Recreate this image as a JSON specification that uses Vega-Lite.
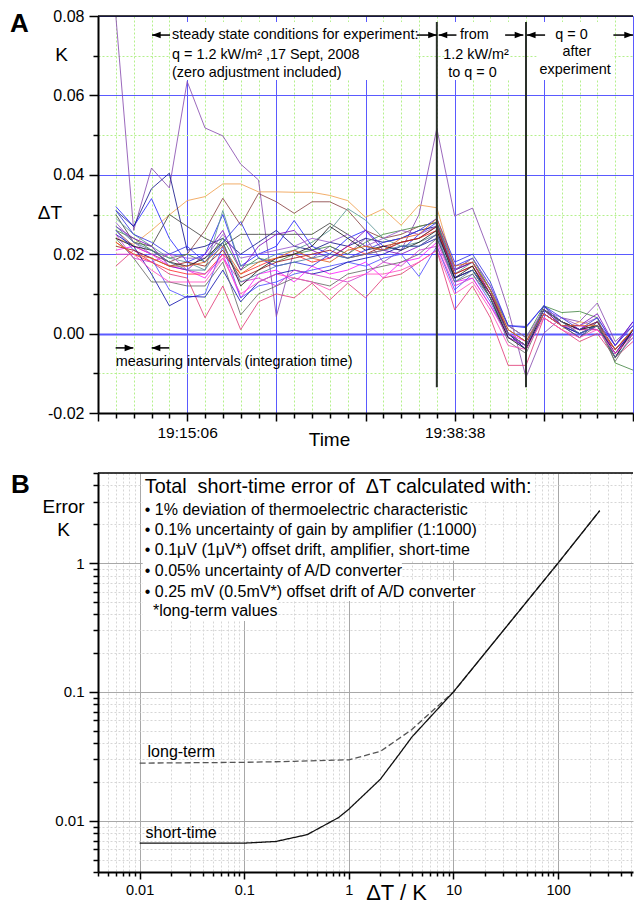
{
"$schema": "https://vega.github.io/schema/vega-lite/v6.json",
"padding": {"left": 10, "top": 8, "right": 0, "bottom": 0},
"autosize": {"type": "pad"},
"bounds": "flush",
"spacing": 60,
"resolve": {"scale": {"color": "independent", "strokeDash": "independent", "shape": "independent"}},
"config": {
  "font": "Liberation Sans",
  "view": {"stroke": null},
  "axis": {"labelFont": "Liberation Sans", "titleFont": "Liberation Sans", "labelColor": "#000", "titleColor": "#000", "domainColor": "#000", "tickColor": "#000", "domainWidth": 2, "tickWidth": 1.5, "titleFontWeight": "normal", "tickCount": 1000, "gridOpacity": 1},
  "text": {"font": "Liberation Sans", "color": "#000"}
},
"datasets": {
  "aBoxes": [{"x":4.05,"x2":17.85,"y":0.0639,"y2":0.0785},{"x":19.45,"x2":23.1,"y":0.0639,"y2":0.0785},{"x":24.6,"x2":28.85,"y":0.0639,"y2":0.0785}],
  "aVert": [{"x":19,"y":-0.0135,"y2":0.0785},{"x":24,"y":-0.0135,"y2":0.0785}],
  "aArrows": [
    {"x":4.04,"x2":3.03,"y":0.0752,"d":"L"},{"x":17.87,"x2":19.0,"y":0.0752,"d":"R"},
    {"x":20.1,"x2":19.1,"y":0.0752,"d":"L"},{"x":22.83,"x2":23.85,"y":0.0752,"d":"R"},
    {"x":25.07,"x2":24.05,"y":0.0752,"d":"L"},{"x":28.9,"x2":30.0,"y":0.0752,"d":"R"},
    {"x":0.99,"x2":1.98,"y":-0.0036,"d":"R"},{"x":4.0,"x2":3.01,"y":-0.0036,"d":"L"}],
  "aTextLeft": [
    {"t":"steady state conditions for experiment:","x":4.15,"y":0.0752},
    {"t":"q = 1.2 kW/m² ,17 Sept, 2008","x":4.15,"y":0.0702},
    {"t":"(zero adjustment included)","x":4.15,"y":0.0657},
    {"t":"measuring intervals (integration time)","x":1.0,"y":-0.0072}],
  "aTextCenter": [
    {"t":"from","x":21.1,"y":0.0752},{"t":"1.2 kW/m²","x":21.2,"y":0.0702},{"t":"to q = 0","x":21.0,"y":0.0657},
    {"t":"q = 0","x":26.55,"y":0.0752},{"t":"after","x":26.85,"y":0.071},{"t":"experiment","x":26.75,"y":0.0664}],
  "aTextAxis": [{"t":"K","x":-2.04,"y":0.0702},{"t":"ΔT","x":-2.69,"y":0.0304}],
  "aTextPanel": [{"t":"A","x":-4.93,"y":0.0781}],
  "aLines": [
{"s":"s1","i":1,"v":0.08},{"s":"s1","i":2,"v":0.026},{"s":"s1","i":3,"v":0.0417},{"s":"s1","i":4,"v":0.0367},{"s":"s1","i":5,"v":0.0635},{"s":"s1","i":6,"v":0.0518},{"s":"s1","i":7,"v":0.0498},{"s":"s1","i":8,"v":0.0427},{"s":"s1","i":9,"v":0.0387},{"s":"s1","i":10,"v":0.0043},{"s":"s1","i":11,"v":0.021},{"s":"s1","i":12,"v":0.019},{"s":"s1","i":13,"v":0.022},{"s":"s1","i":14,"v":0.02},{"s":"s1","i":15,"v":0.024},{"s":"s1","i":16,"v":0.018},{"s":"s1","i":17,"v":0.021},{"s":"s1","i":18,"v":0.03},{"s":"s1","i":19,"v":0.0517},{"s":"s1","i":20,"v":0.0296},{"s":"s1","i":21,"v":0.0316},{"s":"s1","i":22,"v":0.0198},{"s":"s1","i":23,"v":0.006},{"s":"s1","i":24,"v":-0.011},{"s":"s1","i":25,"v":0.0001},{"s":"s1","i":26,"v":0.004},{"s":"s1","i":27,"v":0.003},{"s":"s1","i":28,"v":0.0077},{"s":"s1","i":29,"v":-0.002},{"s":"s1","i":30,"v":0.002},
{"s":"s2","i":1,"v":0.024},{"s":"s2","i":2,"v":0.0225},{"s":"s2","i":3,"v":0.026},{"s":"s2","i":4,"v":0.0299},{"s":"s2","i":5,"v":0.0335},{"s":"s2","i":6,"v":0.0345},{"s":"s2","i":7,"v":0.0377},{"s":"s2","i":8,"v":0.0377},{"s":"s2","i":9,"v":0.0357},{"s":"s2","i":10,"v":0.0357},{"s":"s2","i":11,"v":0.0356},{"s":"s2","i":12,"v":0.0356},{"s":"s2","i":13,"v":0.0348},{"s":"s2","i":14,"v":0.0335},{"s":"s2","i":15,"v":0.0293},{"s":"s2","i":16,"v":0.0314},{"s":"s2","i":17,"v":0.0273},{"s":"s2","i":18,"v":0.0324},{"s":"s2","i":19,"v":0.0317},{"s":"s2","i":20,"v":0.016},{"s":"s2","i":21,"v":0.018},{"s":"s2","i":22,"v":0.011},{"s":"s2","i":23,"v":0.002},{"s":"s2","i":24,"v":-0.001},{"s":"s2","i":25,"v":0.004},{"s":"s2","i":26,"v":0.001},{"s":"s2","i":27,"v":0.003},{"s":"s2","i":28,"v":0.002},{"s":"s2","i":29,"v":-0.004},{"s":"s2","i":30,"v":0.0},
{"s":"s3","i":1,"v":0.026},{"s":"s3","i":2,"v":0.022},{"s":"s3","i":3,"v":0.02},{"s":"s3","i":4,"v":0.018},{"s":"s3","i":5,"v":0.02},{"s":"s3","i":6,"v":0.026},{"s":"s3","i":7,"v":0.0341},{"s":"s3","i":8,"v":0.0273},{"s":"s3","i":9,"v":0.0353},{"s":"s3","i":10,"v":0.0332},{"s":"s3","i":11,"v":0.0303},{"s":"s3","i":12,"v":0.0332},{"s":"s3","i":13,"v":0.0332},{"s":"s3","i":14,"v":0.0311},{"s":"s3","i":15,"v":0.026},{"s":"s3","i":16,"v":0.024},{"s":"s3","i":17,"v":0.025},{"s":"s3","i":18,"v":0.027},{"s":"s3","i":19,"v":0.028},{"s":"s3","i":20,"v":0.014},{"s":"s3","i":21,"v":0.016},{"s":"s3","i":22,"v":0.009},{"s":"s3","i":23,"v":0.0},{"s":"s3","i":24,"v":-0.003},{"s":"s3","i":25,"v":0.006},{"s":"s3","i":26,"v":0.002},{"s":"s3","i":27,"v":0.0},{"s":"s3","i":28,"v":0.002},{"s":"s3","i":29,"v":-0.005},{"s":"s3","i":30,"v":0.001},
{"s":"s4","i":1,"v":0.032},{"s":"s4","i":2,"v":0.027},{"s":"s4","i":3,"v":0.034},{"s":"s4","i":4,"v":0.024},{"s":"s4","i":5,"v":0.018},{"s":"s4","i":6,"v":0.02},{"s":"s4","i":7,"v":0.03},{"s":"s4","i":8,"v":0.017},{"s":"s4","i":9,"v":0.02},{"s":"s4","i":10,"v":0.022},{"s":"s4","i":11,"v":0.0285},{"s":"s4","i":12,"v":0.022},{"s":"s4","i":13,"v":0.02},{"s":"s4","i":14,"v":0.024},{"s":"s4","i":15,"v":0.026},{"s":"s4","i":16,"v":0.022},{"s":"s4","i":17,"v":0.021},{"s":"s4","i":18,"v":0.025},{"s":"s4","i":19,"v":0.028},{"s":"s4","i":20,"v":0.017},{"s":"s4","i":21,"v":0.019},{"s":"s4","i":22,"v":0.012},{"s":"s4","i":23,"v":0.002},{"s":"s4","i":24,"v":0.0015},{"s":"s4","i":25,"v":0.007},{"s":"s4","i":26,"v":0.003},{"s":"s4","i":27,"v":0.001},{"s":"s4","i":28,"v":0.003},{"s":"s4","i":29,"v":-0.003},{"s":"s4","i":30,"v":0.003},
{"s":"s5","i":1,"v":0.031},{"s":"s5","i":2,"v":0.027},{"s":"s5","i":3,"v":0.0365},{"s":"s5","i":4,"v":0.0404},{"s":"s5","i":5,"v":0.021},{"s":"s5","i":6,"v":0.022},{"s":"s5","i":7,"v":0.024},{"s":"s5","i":8,"v":0.02},{"s":"s5","i":9,"v":0.023},{"s":"s5","i":10,"v":0.026},{"s":"s5","i":11,"v":0.022},{"s":"s5","i":12,"v":0.021},{"s":"s5","i":13,"v":0.023},{"s":"s5","i":14,"v":0.022},{"s":"s5","i":15,"v":0.024},{"s":"s5","i":16,"v":0.023},{"s":"s5","i":17,"v":0.024},{"s":"s5","i":18,"v":0.026},{"s":"s5","i":19,"v":0.027},{"s":"s5","i":20,"v":0.016},{"s":"s5","i":21,"v":0.018},{"s":"s5","i":22,"v":0.011},{"s":"s5","i":23,"v":0.0},{"s":"s5","i":24,"v":-0.004},{"s":"s5","i":25,"v":0.007},{"s":"s5","i":26,"v":0.002},{"s":"s5","i":27,"v":-0.001},{"s":"s5","i":28,"v":0.003},{"s":"s5","i":29,"v":-0.006},{"s":"s5","i":30,"v":0.001},
{"s":"s6","i":1,"v":0.03},{"s":"s6","i":2,"v":0.023},{"s":"s6","i":3,"v":0.022},{"s":"s6","i":4,"v":0.03},{"s":"s6","i":5,"v":0.027},{"s":"s6","i":6,"v":0.024},{"s":"s6","i":7,"v":0.022},{"s":"s6","i":8,"v":0.025},{"s":"s6","i":9,"v":0.025},{"s":"s6","i":10,"v":0.025},{"s":"s6","i":11,"v":0.025},{"s":"s6","i":12,"v":0.025},{"s":"s6","i":13,"v":0.0278},{"s":"s6","i":14,"v":0.025},{"s":"s6","i":15,"v":0.022},{"s":"s6","i":16,"v":0.021},{"s":"s6","i":17,"v":0.023},{"s":"s6","i":18,"v":0.024},{"s":"s6","i":19,"v":0.027},{"s":"s6","i":20,"v":0.014},{"s":"s6","i":21,"v":0.016},{"s":"s6","i":22,"v":0.009},{"s":"s6","i":23,"v":-0.001},{"s":"s6","i":24,"v":-0.003},{"s":"s6","i":25,"v":0.006},{"s":"s6","i":26,"v":0.003},{"s":"s6","i":27,"v":0.0},{"s":"s6","i":28,"v":0.002},{"s":"s6","i":29,"v":-0.005},{"s":"s6","i":30,"v":0.0},
{"s":"s7","i":1,"v":0.021},{"s":"s7","i":2,"v":0.022},{"s":"s7","i":3,"v":0.02},{"s":"s7","i":4,"v":0.017},{"s":"s7","i":5,"v":0.016},{"s":"s7","i":6,"v":0.014},{"s":"s7","i":7,"v":0.02},{"s":"s7","i":8,"v":0.009},{"s":"s7","i":9,"v":0.015},{"s":"s7","i":10,"v":0.016},{"s":"s7","i":11,"v":0.013},{"s":"s7","i":12,"v":0.017},{"s":"s7","i":13,"v":0.015},{"s":"s7","i":14,"v":0.016},{"s":"s7","i":15,"v":0.018},{"s":"s7","i":16,"v":0.014},{"s":"s7","i":17,"v":0.018},{"s":"s7","i":18,"v":0.019},{"s":"s7","i":19,"v":0.023},{"s":"s7","i":20,"v":0.013},{"s":"s7","i":21,"v":0.014},{"s":"s7","i":22,"v":0.007},{"s":"s7","i":23,"v":0.0},{"s":"s7","i":24,"v":-0.002},{"s":"s7","i":25,"v":0.005},{"s":"s7","i":26,"v":0.002},{"s":"s7","i":27,"v":0.002},{"s":"s7","i":28,"v":0.001},{"s":"s7","i":29,"v":-0.004},{"s":"s7","i":30,"v":0.0},
{"s":"s8","i":1,"v":0.017},{"s":"s8","i":2,"v":0.021},{"s":"s8","i":3,"v":0.018},{"s":"s8","i":4,"v":0.015},{"s":"s8","i":5,"v":0.014},{"s":"s8","i":6,"v":0.004},{"s":"s8","i":7,"v":0.012},{"s":"s8","i":8,"v":0.001},{"s":"s8","i":9,"v":0.008},{"s":"s8","i":10,"v":0.01},{"s":"s8","i":11,"v":0.009},{"s":"s8","i":12,"v":0.0127},{"s":"s8","i":13,"v":0.0085},{"s":"s8","i":14,"v":0.0127},{"s":"s8","i":15,"v":0.009},{"s":"s8","i":16,"v":0.014},{"s":"s8","i":17,"v":0.015},{"s":"s8","i":18,"v":0.018},{"s":"s8","i":19,"v":0.021},{"s":"s8","i":20,"v":0.006},{"s":"s8","i":21,"v":0.012},{"s":"s8","i":22,"v":0.004},{"s":"s8","i":23,"v":-0.008},{"s":"s8","i":24,"v":-0.008},{"s":"s8","i":25,"v":0.004},{"s":"s8","i":26,"v":0.001},{"s":"s8","i":27,"v":-0.002},{"s":"s8","i":28,"v":0.0},{"s":"s8","i":29,"v":-0.006},{"s":"s8","i":30,"v":-0.002},
{"s":"s9","i":1,"v":0.023},{"s":"s9","i":2,"v":0.02},{"s":"s9","i":3,"v":0.018},{"s":"s9","i":4,"v":0.016},{"s":"s9","i":5,"v":0.015},{"s":"s9","i":6,"v":0.015},{"s":"s9","i":7,"v":0.02},{"s":"s9","i":8,"v":0.015},{"s":"s9","i":9,"v":0.017},{"s":"s9","i":10,"v":0.019},{"s":"s9","i":11,"v":0.02},{"s":"s9","i":12,"v":0.018},{"s":"s9","i":13,"v":0.019},{"s":"s9","i":14,"v":0.022},{"s":"s9","i":15,"v":0.02},{"s":"s9","i":16,"v":0.021},{"s":"s9","i":17,"v":0.023},{"s":"s9","i":18,"v":0.024},{"s":"s9","i":19,"v":0.026},{"s":"s9","i":20,"v":0.015},{"s":"s9","i":21,"v":0.017},{"s":"s9","i":22,"v":0.01},{"s":"s9","i":23,"v":0.001},{"s":"s9","i":24,"v":-0.002},{"s":"s9","i":25,"v":0.006},{"s":"s9","i":26,"v":0.003},{"s":"s9","i":27,"v":0.001},{"s":"s9","i":28,"v":0.001},{"s":"s9","i":29,"v":-0.004},{"s":"s9","i":30,"v":0.001},
{"s":"s10","i":1,"v":0.026},{"s":"s10","i":2,"v":0.024},{"s":"s10","i":3,"v":0.021},{"s":"s10","i":4,"v":0.019},{"s":"s10","i":5,"v":0.02},{"s":"s10","i":6,"v":0.018},{"s":"s10","i":7,"v":0.024},{"s":"s10","i":8,"v":0.016},{"s":"s10","i":9,"v":0.019},{"s":"s10","i":10,"v":0.018},{"s":"s10","i":11,"v":0.02},{"s":"s10","i":12,"v":0.021},{"s":"s10","i":13,"v":0.022},{"s":"s10","i":14,"v":0.02},{"s":"s10","i":15,"v":0.023},{"s":"s10","i":16,"v":0.025},{"s":"s10","i":17,"v":0.026},{"s":"s10","i":18,"v":0.027},{"s":"s10","i":19,"v":0.028},{"s":"s10","i":20,"v":0.016},{"s":"s10","i":21,"v":0.019},{"s":"s10","i":22,"v":0.011},{"s":"s10","i":23,"v":0.002},{"s":"s10","i":24,"v":-0.001},{"s":"s10","i":25,"v":0.007},{"s":"s10","i":26,"v":0.0053},{"s":"s10","i":27,"v":0.0056},{"s":"s10","i":28,"v":0.004},{"s":"s10","i":29,"v":-0.0074},{"s":"s10","i":30,"v":-0.0092},
{"s":"s11","i":1,"v":0.029},{"s":"s11","i":2,"v":0.025},{"s":"s11","i":3,"v":0.022},{"s":"s11","i":4,"v":0.019},{"s":"s11","i":5,"v":0.018},{"s":"s11","i":6,"v":0.016},{"s":"s11","i":7,"v":0.031},{"s":"s11","i":8,"v":0.017},{"s":"s11","i":9,"v":0.018},{"s":"s11","i":10,"v":0.02},{"s":"s11","i":11,"v":0.021},{"s":"s11","i":12,"v":0.023},{"s":"s11","i":13,"v":0.026},{"s":"s11","i":14,"v":0.0315},{"s":"s11","i":15,"v":0.0286},{"s":"s11","i":16,"v":0.024},{"s":"s11","i":17,"v":0.022},{"s":"s11","i":18,"v":0.023},{"s":"s11","i":19,"v":0.025},{"s":"s11","i":20,"v":0.015},{"s":"s11","i":21,"v":0.018},{"s":"s11","i":22,"v":0.011},{"s":"s11","i":23,"v":0.001},{"s":"s11","i":24,"v":-0.002},{"s":"s11","i":25,"v":0.006},{"s":"s11","i":26,"v":0.003},{"s":"s11","i":27,"v":0.001},{"s":"s11","i":28,"v":0.002},{"s":"s11","i":29,"v":-0.004},{"s":"s11","i":30,"v":0.001},
{"s":"s12","i":1,"v":0.027},{"s":"s12","i":2,"v":0.024},{"s":"s12","i":3,"v":0.022},{"s":"s12","i":4,"v":0.017},{"s":"s12","i":5,"v":0.016},{"s":"s12","i":6,"v":0.02},{"s":"s12","i":7,"v":0.026},{"s":"s12","i":8,"v":0.016},{"s":"s12","i":9,"v":0.022},{"s":"s12","i":10,"v":0.025},{"s":"s12","i":11,"v":0.026},{"s":"s12","i":12,"v":0.021},{"s":"s12","i":13,"v":0.019},{"s":"s12","i":14,"v":0.022},{"s":"s12","i":15,"v":0.026},{"s":"s12","i":16,"v":0.021},{"s":"s12","i":17,"v":0.02},{"s":"s12","i":18,"v":0.022},{"s":"s12","i":19,"v":0.025},{"s":"s12","i":20,"v":0.016},{"s":"s12","i":21,"v":0.018},{"s":"s12","i":22,"v":0.01},{"s":"s12","i":23,"v":0.0},{"s":"s12","i":24,"v":-0.003},{"s":"s12","i":25,"v":0.006},{"s":"s12","i":26,"v":0.002},{"s":"s12","i":27,"v":0.002},{"s":"s12","i":28,"v":0.005},{"s":"s12","i":29,"v":-0.003},{"s":"s12","i":30,"v":0.003},
{"s":"s13","i":1,"v":0.026},{"s":"s13","i":2,"v":0.021},{"s":"s13","i":3,"v":0.019},{"s":"s13","i":4,"v":0.011},{"s":"s13","i":5,"v":0.009},{"s":"s13","i":6,"v":0.01},{"s":"s13","i":7,"v":0.022},{"s":"s13","i":8,"v":0.009},{"s":"s13","i":9,"v":0.012},{"s":"s13","i":10,"v":0.013},{"s":"s13","i":11,"v":0.015},{"s":"s13","i":12,"v":0.016},{"s":"s13","i":13,"v":0.017},{"s":"s13","i":14,"v":0.018},{"s":"s13","i":15,"v":0.017},{"s":"s13","i":16,"v":0.019},{"s":"s13","i":17,"v":0.02},{"s":"s13","i":18,"v":0.0144},{"s":"s13","i":19,"v":0.022},{"s":"s13","i":20,"v":0.011},{"s":"s13","i":21,"v":0.015},{"s":"s13","i":22,"v":0.008},{"s":"s13","i":23,"v":-0.001},{"s":"s13","i":24,"v":-0.003},{"s":"s13","i":25,"v":0.005},{"s":"s13","i":26,"v":0.002},{"s":"s13","i":27,"v":0.0},{"s":"s13","i":28,"v":0.002},{"s":"s13","i":29,"v":-0.004},{"s":"s13","i":30,"v":0.0},
{"s":"s14","i":1,"v":0.025},{"s":"s14","i":2,"v":0.022},{"s":"s14","i":3,"v":0.015},{"s":"s14","i":4,"v":0.007},{"s":"s14","i":5,"v":0.0094},{"s":"s14","i":6,"v":0.0092},{"s":"s14","i":7,"v":0.016},{"s":"s14","i":8,"v":0.008},{"s":"s14","i":9,"v":0.013},{"s":"s14","i":10,"v":0.015},{"s":"s14","i":11,"v":0.016},{"s":"s14","i":12,"v":0.015},{"s":"s14","i":13,"v":0.016},{"s":"s14","i":14,"v":0.018},{"s":"s14","i":15,"v":0.019},{"s":"s14","i":16,"v":0.02},{"s":"s14","i":17,"v":0.022},{"s":"s14","i":18,"v":0.022},{"s":"s14","i":19,"v":0.024},{"s":"s14","i":20,"v":0.014},{"s":"s14","i":21,"v":0.016},{"s":"s14","i":22,"v":0.01},{"s":"s14","i":23,"v":0.0},{"s":"s14","i":24,"v":-0.004},{"s":"s14","i":25,"v":0.005},{"s":"s14","i":26,"v":0.002},{"s":"s14","i":27,"v":0.0},{"s":"s14","i":28,"v":0.002},{"s":"s14","i":29,"v":-0.005},{"s":"s14","i":30,"v":0.001},
{"s":"s15","i":1,"v":0.024},{"s":"s15","i":2,"v":0.019},{"s":"s15","i":3,"v":0.013},{"s":"s15","i":4,"v":0.013},{"s":"s15","i":5,"v":0.012},{"s":"s15","i":6,"v":0.012},{"s":"s15","i":7,"v":0.018},{"s":"s15","i":8,"v":0.0047},{"s":"s15","i":9,"v":0.01},{"s":"s15","i":10,"v":0.012},{"s":"s15","i":11,"v":0.014},{"s":"s15","i":12,"v":0.013},{"s":"s15","i":13,"v":0.012},{"s":"s15","i":14,"v":0.015},{"s":"s15","i":15,"v":0.016},{"s":"s15","i":16,"v":0.017},{"s":"s15","i":17,"v":0.018},{"s":"s15","i":18,"v":0.02},{"s":"s15","i":19,"v":0.024},{"s":"s15","i":20,"v":0.013},{"s":"s15","i":21,"v":0.015},{"s":"s15","i":22,"v":0.009},{"s":"s15","i":23,"v":-0.002},{"s":"s15","i":24,"v":-0.005},{"s":"s15","i":25,"v":0.005},{"s":"s15","i":26,"v":0.002},{"s":"s15","i":27,"v":-0.001},{"s":"s15","i":28,"v":0.002},{"s":"s15","i":29,"v":-0.007},{"s":"s15","i":30,"v":0.0},
{"s":"s16","i":1,"v":0.028},{"s":"s16","i":2,"v":0.023},{"s":"s16","i":3,"v":0.02},{"s":"s16","i":4,"v":0.02},{"s":"s16","i":5,"v":0.019},{"s":"s16","i":6,"v":0.019},{"s":"s16","i":7,"v":0.025},{"s":"s16","i":8,"v":0.019},{"s":"s16","i":9,"v":0.02},{"s":"s16","i":10,"v":0.021},{"s":"s16","i":11,"v":0.022},{"s":"s16","i":12,"v":0.024},{"s":"s16","i":13,"v":0.023},{"s":"s16","i":14,"v":0.025},{"s":"s16","i":15,"v":0.022},{"s":"s16","i":16,"v":0.024},{"s":"s16","i":17,"v":0.026},{"s":"s16","i":18,"v":0.025},{"s":"s16","i":19,"v":0.027},{"s":"s16","i":20,"v":0.016},{"s":"s16","i":21,"v":0.019},{"s":"s16","i":22,"v":0.012},{"s":"s16","i":23,"v":0.002},{"s":"s16","i":24,"v":-0.001},{"s":"s16","i":25,"v":0.006},{"s":"s16","i":26,"v":0.004},{"s":"s16","i":27,"v":0.002},{"s":"s16","i":28,"v":0.004},{"s":"s16","i":29,"v":-0.003},{"s":"s16","i":30,"v":0.002},
{"s":"s17","i":1,"v":0.022},{"s":"s17","i":2,"v":0.021},{"s":"s17","i":3,"v":0.019},{"s":"s17","i":4,"v":0.017},{"s":"s17","i":5,"v":0.018},{"s":"s17","i":6,"v":0.017},{"s":"s17","i":7,"v":0.021},{"s":"s17","i":8,"v":0.014},{"s":"s17","i":9,"v":0.016},{"s":"s17","i":10,"v":0.018},{"s":"s17","i":11,"v":0.019},{"s":"s17","i":12,"v":0.02},{"s":"s17","i":13,"v":0.021},{"s":"s17","i":14,"v":0.019},{"s":"s17","i":15,"v":0.02},{"s":"s17","i":16,"v":0.022},{"s":"s17","i":17,"v":0.023},{"s":"s17","i":18,"v":0.024},{"s":"s17","i":19,"v":0.027},{"s":"s17","i":20,"v":0.015},{"s":"s17","i":21,"v":0.017},{"s":"s17","i":22,"v":0.01},{"s":"s17","i":23,"v":0.0},{"s":"s17","i":24,"v":-0.003},{"s":"s17","i":25,"v":0.006},{"s":"s17","i":26,"v":0.003},{"s":"s17","i":27,"v":0.001},{"s":"s17","i":28,"v":0.003},{"s":"s17","i":29,"v":-0.004},{"s":"s17","i":30,"v":0.001},
{"s":"s18","i":1,"v":0.025},{"s":"s18","i":2,"v":0.019},{"s":"s18","i":3,"v":0.018},{"s":"s18","i":4,"v":0.02},{"s":"s18","i":5,"v":0.016},{"s":"s18","i":6,"v":0.015},{"s":"s18","i":7,"v":0.019},{"s":"s18","i":8,"v":0.013},{"s":"s18","i":9,"v":0.014},{"s":"s18","i":10,"v":0.012},{"s":"s18","i":11,"v":0.016},{"s":"s18","i":12,"v":0.015},{"s":"s18","i":13,"v":0.014},{"s":"s18","i":14,"v":0.013},{"s":"s18","i":15,"v":0.015},{"s":"s18","i":16,"v":0.018},{"s":"s18","i":17,"v":0.017},{"s":"s18","i":18,"v":0.021},{"s":"s18","i":19,"v":0.022},{"s":"s18","i":20,"v":0.012},{"s":"s18","i":21,"v":0.014},{"s":"s18","i":22,"v":0.007},{"s":"s18","i":23,"v":-0.001},{"s":"s18","i":24,"v":-0.003},{"s":"s18","i":25,"v":0.005},{"s":"s18","i":26,"v":0.002},{"s":"s18","i":27,"v":0.001},{"s":"s18","i":28,"v":0.001},{"s":"s18","i":29,"v":-0.005},{"s":"s18","i":30,"v":0.0},
{"s":"s19","i":1,"v":0.024},{"s":"s19","i":2,"v":0.022},{"s":"s19","i":3,"v":0.021},{"s":"s19","i":4,"v":0.018},{"s":"s19","i":5,"v":0.017},{"s":"s19","i":6,"v":0.019},{"s":"s19","i":7,"v":0.023},{"s":"s19","i":8,"v":0.012},{"s":"s19","i":9,"v":0.016},{"s":"s19","i":10,"v":0.019},{"s":"s19","i":11,"v":0.02},{"s":"s19","i":12,"v":0.022},{"s":"s19","i":13,"v":0.027},{"s":"s19","i":14,"v":0.024},{"s":"s19","i":15,"v":0.021},{"s":"s19","i":16,"v":0.022},{"s":"s19","i":17,"v":0.021},{"s":"s19","i":18,"v":0.023},{"s":"s19","i":19,"v":0.026},{"s":"s19","i":20,"v":0.014},{"s":"s19","i":21,"v":0.017},{"s":"s19","i":22,"v":0.009},{"s":"s19","i":23,"v":-0.001},{"s":"s19","i":24,"v":-0.004},{"s":"s19","i":25,"v":0.006},{"s":"s19","i":26,"v":0.003},{"s":"s19","i":27,"v":0.001},{"s":"s19","i":28,"v":0.002},{"s":"s19","i":29,"v":-0.006},{"s":"s19","i":30,"v":0.001},
{"s":"s20","i":1,"v":0.031},{"s":"s20","i":2,"v":0.025},{"s":"s20","i":3,"v":0.023},{"s":"s20","i":4,"v":0.02},{"s":"s20","i":5,"v":0.022},{"s":"s20","i":6,"v":0.018},{"s":"s20","i":7,"v":0.023},{"s":"s20","i":8,"v":0.0282},{"s":"s20","i":9,"v":0.019},{"s":"s20","i":10,"v":0.017},{"s":"s20","i":11,"v":0.018},{"s":"s20","i":12,"v":0.017},{"s":"s20","i":13,"v":0.02},{"s":"s20","i":14,"v":0.019},{"s":"s20","i":15,"v":0.021},{"s":"s20","i":16,"v":0.023},{"s":"s20","i":17,"v":0.024},{"s":"s20","i":18,"v":0.026},{"s":"s20","i":19,"v":0.029},{"s":"s20","i":20,"v":0.018},{"s":"s20","i":21,"v":0.02},{"s":"s20","i":22,"v":0.013},{"s":"s20","i":23,"v":0.002},{"s":"s20","i":24,"v":0.0018},{"s":"s20","i":25,"v":0.007},{"s":"s20","i":26,"v":0.004},{"s":"s20","i":27,"v":0.001},{"s":"s20","i":28,"v":0.004},{"s":"s20","i":29,"v":-0.003},{"s":"s20","i":30,"v":0.002},
{"s":"s21","i":1,"v":0.023},{"s":"s21","i":2,"v":0.02},{"s":"s21","i":3,"v":0.019},{"s":"s21","i":4,"v":0.017},{"s":"s21","i":5,"v":0.017},{"s":"s21","i":6,"v":0.018},{"s":"s21","i":7,"v":0.022},{"s":"s21","i":8,"v":0.015},{"s":"s21","i":9,"v":0.018},{"s":"s21","i":10,"v":0.019},{"s":"s21","i":11,"v":0.021},{"s":"s21","i":12,"v":0.019},{"s":"s21","i":13,"v":0.018},{"s":"s21","i":14,"v":0.021},{"s":"s21","i":15,"v":0.022},{"s":"s21","i":16,"v":0.021},{"s":"s21","i":17,"v":0.024},{"s":"s21","i":18,"v":0.025},{"s":"s21","i":19,"v":0.029},{"s":"s21","i":20,"v":0.017},{"s":"s21","i":21,"v":0.018},{"s":"s21","i":22,"v":0.011},{"s":"s21","i":23,"v":0.001},{"s":"s21","i":24,"v":-0.002},{"s":"s21","i":25,"v":0.005},{"s":"s21","i":26,"v":0.002},{"s":"s21","i":27,"v":0.002},{"s":"s21","i":28,"v":0.002},{"s":"s21","i":29,"v":-0.004},{"s":"s21","i":30,"v":0.001},
{"s":"s22","i":1,"v":0.027},{"s":"s22","i":2,"v":0.023},{"s":"s22","i":3,"v":0.021},{"s":"s22","i":4,"v":0.018},{"s":"s22","i":5,"v":0.016},{"s":"s22","i":6,"v":0.016},{"s":"s22","i":7,"v":0.023},{"s":"s22","i":8,"v":0.013},{"s":"s22","i":9,"v":0.015},{"s":"s22","i":10,"v":0.017},{"s":"s22","i":11,"v":0.018},{"s":"s22","i":12,"v":0.019},{"s":"s22","i":13,"v":0.02},{"s":"s22","i":14,"v":0.019},{"s":"s22","i":15,"v":0.02},{"s":"s22","i":16,"v":0.021},{"s":"s22","i":17,"v":0.022},{"s":"s22","i":18,"v":0.022},{"s":"s22","i":19,"v":0.025},{"s":"s22","i":20,"v":0.013},{"s":"s22","i":21,"v":0.016},{"s":"s22","i":22,"v":0.009},{"s":"s22","i":23,"v":0.0},{"s":"s22","i":24,"v":-0.003},{"s":"s22","i":25,"v":0.006},{"s":"s22","i":26,"v":0.003},{"s":"s22","i":27,"v":0.0},{"s":"s22","i":28,"v":0.002},{"s":"s22","i":29,"v":-0.006},{"s":"s22","i":30,"v":-0.001},
{"s":"s23","i":1,"v":0.02},{"s":"s23","i":2,"v":0.02},{"s":"s23","i":3,"v":0.016},{"s":"s23","i":4,"v":0.013},{"s":"s23","i":5,"v":0.013},{"s":"s23","i":6,"v":0.013},{"s":"s23","i":7,"v":0.019},{"s":"s23","i":8,"v":0.01},{"s":"s23","i":9,"v":0.013},{"s":"s23","i":10,"v":0.015},{"s":"s23","i":11,"v":0.014},{"s":"s23","i":12,"v":0.013},{"s":"s23","i":13,"v":0.011},{"s":"s23","i":14,"v":0.014},{"s":"s23","i":15,"v":0.015},{"s":"s23","i":16,"v":0.015},{"s":"s23","i":17,"v":0.016},{"s":"s23","i":18,"v":0.018},{"s":"s23","i":19,"v":0.021},{"s":"s23","i":20,"v":0.01},{"s":"s23","i":21,"v":0.013},{"s":"s23","i":22,"v":0.006},{"s":"s23","i":23,"v":-0.003},{"s":"s23","i":24,"v":-0.004},{"s":"s23","i":25,"v":0.004},{"s":"s23","i":26,"v":0.001},{"s":"s23","i":27,"v":-0.001},{"s":"s23","i":28,"v":0.001},{"s":"s23","i":29,"v":-0.005},{"s":"s23","i":30,"v":-0.001}
  ],
  "bCurves": [
    {"c":"long-term","x":0.01,"y":0.028},{"c":"long-term","x":0.1,"y":0.0284},{"c":"long-term","x":0.3,"y":0.0289},{"c":"long-term","x":1,"y":0.0297},{"c":"long-term","x":2,"y":0.0345},{"c":"long-term","x":4,"y":0.051},{"c":"long-term","x":8,"y":0.085},{"c":"long-term","x":10,"y":0.1},{"c":"long-term","x":100,"y":1},{"c":"long-term","x":250,"y":2.55},
    {"c":"short-time","x":0.01,"y":0.0067},{"c":"short-time","x":0.02,"y":0.0067},{"c":"short-time","x":0.05,"y":0.0067},{"c":"short-time","x":0.1,"y":0.0067},{"c":"short-time","x":0.2,"y":0.0069},{"c":"short-time","x":0.4,"y":0.0078},{"c":"short-time","x":0.8,"y":0.0106},{"c":"short-time","x":1,"y":0.0123},{"c":"short-time","x":1.5,"y":0.0168},{"c":"short-time","x":2,"y":0.021},{"c":"short-time","x":3,"y":0.0325},{"c":"short-time","x":4,"y":0.0446},{"c":"short-time","x":6,"y":0.0638},{"c":"short-time","x":10,"y":0.1},{"c":"short-time","x":20,"y":0.2},{"c":"short-time","x":50,"y":0.5},{"c":"short-time","x":100,"y":1},{"c":"short-time","x":250,"y":2.55}
  ],
  "bBoxes": [
    {"x":0.0107,"x2":60.3,"y":3.11,"y2":5},
    {"x":0.0107,"x2":13.8,"y":2.175,"y2":3.11},
    {"x":0.0107,"x2":16.1,"y":1.519,"y2":2.175},
    {"x":0.0107,"x2":14.4,"y":1.042,"y2":1.519},
    {"x":0.0107,"x2":3.21,"y":0.7278,"y2":1.042},
    {"x":0.0107,"x2":16.8,"y":0.5084,"y2":0.7278},
    {"x":0.0107,"x2":0.205,"y":0.355,"y2":0.5084}],
  "bTextTitle": [{"t":"Total\u00a0 short-time error of\u00a0 ΔT calculated with:","x":0.0112,"y":3.86}],
  "bTextLeft": [
    {"t":"• 1% deviation of thermoelectric characteristic","x":0.0112,"y":2.6},
    {"t":"• 0.1% uncertainty of gain by amplifier (1:1000)","x":0.0112,"y":1.795},
    {"t":"• 0.1μV (1μV*) offset drift, amplifier, short-time","x":0.0112,"y":1.254},
    {"t":"• 0.05% uncertainty of A/D converter","x":0.0112,"y":0.86},
    {"t":"• 0.25 mV (0.5mV*) offset drift of A/D converter","x":0.0112,"y":0.601},
    {"t":"*long-term values","x":0.0134,"y":0.427},
    {"t":"long-term","x":0.0119,"y":0.034},
    {"t":"short-time","x":0.0114,"y":0.0081}],
  "bTextAxis": [{"t":"Error","x":0.001875,"y":2.7},{"t":"K","x":0.001875,"y":1.818}],
  "bTextPanel": [{"t":"B","x":0.000591,"y":4.07}]
},
"vconcat": [
{
  "width": 535, "height": 397,
  "layer": [
    {"data": {"name": "aBoxes"}, "mark": {"type": "rect", "fill": "white"},
     "encoding": {
       "x": {"field": "x", "type": "quantitative", "scale": {"domain": [0, 30], "nice": false, "zero": false}},
       "x2": {"field": "x2"},
       "y": {"field": "y", "type": "quantitative", "scale": {"domain": [-0.02, 0.08], "nice": false, "zero": false}},
       "y2": {"field": "y2"}}},
    {"data": {"name": "aLines"}, "mark": {"type": "line", "strokeWidth": 1, "opacity": 0.85, "clip": true},
     "encoding": {
       "x": {"field": "i", "type": "quantitative", "scale": {"domain": [0, 30], "nice": false, "zero": false},
         "axis": {"values": [0,1,2,3,4,5,6,7,8,9,10,11,12,13,14,15,16,17,18,19,20,21,22,23,24,25,26,27,28,29,30],
           "tickCount": 1000,
           "title": "Time", "titleFontSize": 19, "titleX": 231, "titleY": 26, "titleAlign": "center", "titleBaseline": "middle",
           "labelExpr": "datum.value === 5 ? '19:15:06' : datum.value === 20 ? '19:38:38' : ''",
           "labelFontSize": 15.5, "labelPadding": 4, "labelOverlap": false, "labelFlush": false, "labelBound": false,
           "tickSize": {"condition": {"test": "datum.value % 5 === 0", "value": 8}, "value": 5},
           "grid": true,
           "gridColor": {"condition": {"test": "datum.value % 5 === 0", "value": "#5a5aff"}, "value": "#b4f08c"},
           "gridDash": {"condition": {"test": "datum.value % 5 === 0", "value": []}, "value": [2, 2]}}},
       "y": {"field": "v", "type": "quantitative", "scale": {"domain": [-0.02, 0.08], "nice": false, "zero": false},
         "axis": {"values": [-0.02,-0.01,0,0.01,0.02,0.03,0.04,0.05,0.06,0.07,0.08],
           "tickCount": 1000,
           "title": null, "format": ".2f",
           "labelExpr": "datum.value < -0.015 ? '-0.02' : ((datum.value > -0.005 && datum.value < 0.005) || (datum.value > 0.015 && datum.value < 0.025) || (datum.value > 0.035 && datum.value < 0.045) || (datum.value > 0.055 && datum.value < 0.065) || datum.value > 0.075) ? datum.label : ''",
           "labelFontSize": 16, "labelPadding": 5, "labelOverlap": false, "labelBound": false,
           "tickSize": {"condition": {"test": "datum.value < -0.015 || (datum.value > -0.005 && datum.value < 0.005) || (datum.value > 0.015 && datum.value < 0.025) || (datum.value > 0.035 && datum.value < 0.045) || (datum.value > 0.055 && datum.value < 0.065) || datum.value > 0.075", "value": 9}, "value": 5},
           "grid": true,
           "gridColor": {"condition": {"test": "datum.value < -0.015 || (datum.value > -0.005 && datum.value < 0.005) || (datum.value > 0.015 && datum.value < 0.025) || (datum.value > 0.035 && datum.value < 0.045) || (datum.value > 0.055 && datum.value < 0.065) || datum.value > 0.075", "value": "#5a5aff"}, "value": "#b4f08c"},
           "gridWidth": {"condition": {"test": "datum.value > -0.005 && datum.value < 0.005", "value": 2}, "value": 1},
           "gridDash": {"condition": {"test": "datum.value < -0.015 || (datum.value > -0.005 && datum.value < 0.005) || (datum.value > 0.015 && datum.value < 0.025) || (datum.value > 0.035 && datum.value < 0.045) || (datum.value > 0.055 && datum.value < 0.065) || datum.value > 0.075", "value": []}, "value": [2, 2]}}},
       "color": {"field": "s", "type": "nominal", "legend": null,
         "scale": {"domain": ["s1","s2","s3","s4","s5","s6","s7","s8","s9","s10","s11","s12","s13","s14","s15","s16","s17","s18","s19","s20","s21","s22","s23"],
           "range": ["#8a4fb0","#f0a050","#8b4545","#2a2aff","#1a1a8c","#454545","#ff20ff","#e0407a","#ff2a2a","#4a8a4a","#5a9595","#8010c0","#5050ff","#1515b0","#6a6a6a","#9a5ad0","#a02020","#d040d0","#202020","#3535e0","#e06020","#5080a0","#ff50c0"]}}}},
    {"data": {"values": [{}]}, "mark": {"type": "rule", "color": "#000", "strokeWidth": 1.5},
     "encoding": {"y": {"datum": 0.08, "type": "quantitative"}}},
    {"data": {"name": "aVert"}, "mark": {"type": "rule", "color": "#2a302a", "strokeWidth": 2},
     "encoding": {
       "x": {"field": "x", "type": "quantitative"},
       "y": {"field": "y", "type": "quantitative"},
       "y2": {"field": "y2"}}},
    {"data": {"name": "aArrows"}, "mark": {"type": "rule", "color": "#000", "strokeWidth": 1.5},
     "encoding": {
       "x": {"field": "x", "type": "quantitative"},
       "x2": {"field": "x2"},
       "y": {"field": "y", "type": "quantitative"}}},
    {"data": {"name": "aArrows"}, "mark": {"type": "point", "filled": true, "color": "#000", "opacity": 1, "size": 300},
     "encoding": {
       "x": {"field": "x2", "type": "quantitative"},
       "y": {"field": "y", "type": "quantitative"},
       "shape": {"field": "d", "type": "nominal", "legend": null, "scale": {"domain": ["L", "R"], "range": ["M0,0L1,-0.38L1,0.38Z", "M0,0L-1,-0.38L-1,0.38Z"]}}}},
    {"data": {"name": "aTextLeft"}, "mark": {"type": "text", "align": "left", "baseline": "middle", "fontSize": 14.4},
     "encoding": {
       "x": {"field": "x", "type": "quantitative"},
       "y": {"field": "y", "type": "quantitative"},
       "text": {"field": "t"}}},
    {"data": {"name": "aTextCenter"}, "mark": {"type": "text", "align": "center", "baseline": "middle", "fontSize": 14.4},
     "encoding": {
       "x": {"field": "x", "type": "quantitative"},
       "y": {"field": "y", "type": "quantitative"},
       "text": {"field": "t"}}},
    {"data": {"name": "aTextAxis"}, "mark": {"type": "text", "align": "center", "baseline": "middle", "fontSize": 19},
     "encoding": {
       "x": {"field": "x", "type": "quantitative"},
       "y": {"field": "y", "type": "quantitative"},
       "text": {"field": "t"}}},
    {"data": {"name": "aTextPanel"}, "mark": {"type": "text", "align": "left", "baseline": "middle", "fontSize": 26, "fontWeight": "bold"},
     "encoding": {
       "x": {"field": "x", "type": "quantitative"},
       "y": {"field": "y", "type": "quantitative"},
       "text": {"field": "t"}}}
  ]
},
{
  "width": 535, "height": 399,
  "layer": [
    {"data": {"name": "bBoxes"}, "mark": {"type": "rect", "fill": "white"},
     "encoding": {
       "x": {"field": "x", "type": "quantitative", "scale": {"type": "log", "domain": [0.004, 520], "nice": false}},
       "x2": {"field": "x2"},
       "y": {"field": "y", "type": "quantitative", "scale": {"type": "log", "domain": [0.004, 5], "nice": false}},
       "y2": {"field": "y2"}}},
    {"data": {"name": "bCurves"}, "mark": {"type": "line", "strokeWidth": 1.3},
     "encoding": {
       "x": {"field": "x", "type": "quantitative", "scale": {"type": "log", "domain": [0.004, 520], "nice": false},
         "axis": {"values": [0.004,0.005,0.006,0.007,0.008,0.009,0.01,0.02,0.03,0.04,0.05,0.06,0.07,0.08,0.09,0.1,0.2,0.3,0.4,0.5,0.6,0.7,0.8,0.9,1,2,3,4,5,6,7,8,9,10,20,30,40,50,60,70,80,90,100,200,300,400,500],
           "tickCount": 1000,
           "title": "ΔT / K", "titleFontSize": 22, "titleX": 298, "titleY": 20, "titleAlign": "center", "titleBaseline": "middle",
           "format": "~g",
           "labelExpr": "(datum.value === 0.01 || datum.value === 0.1 || datum.value === 1 || datum.value === 10 || datum.value === 100) ? datum.label : ''",
           "labelFontSize": 14.5, "labelPadding": 4, "labelOverlap": false, "labelFlush": false, "labelBound": false,
           "tickSize": {"condition": {"test": "datum.value === 0.01 || datum.value === 0.1 || datum.value === 1 || datum.value === 10 || datum.value === 100", "value": 7}, "value": 4},
           "grid": true,
           "gridColor": {"condition": {"test": "datum.value === 0.01 || datum.value === 0.1 || datum.value === 1 || datum.value === 10 || datum.value === 100", "value": "#a8a8a8"}, "value": "#d6d6d6"},
           "gridDash": {"condition": {"test": "datum.value === 0.01 || datum.value === 0.1 || datum.value === 1 || datum.value === 10 || datum.value === 100", "value": []}, "value": [2, 2]}}},
       "y": {"field": "y", "type": "quantitative", "scale": {"type": "log", "domain": [0.004, 5], "nice": false},
         "axis": {"values": [0.004,0.005,0.006,0.007,0.008,0.009,0.01,0.02,0.03,0.04,0.05,0.06,0.07,0.08,0.09,0.1,0.2,0.3,0.4,0.5,0.6,0.7,0.8,0.9,1,2,3,4,5],
           "tickCount": 1000,
           "title": null, "format": "~g",
           "labelExpr": "(datum.value === 0.01 || datum.value === 0.1 || datum.value === 1) ? datum.label : ''",
           "labelFontSize": 15, "labelPadding": 5, "labelOverlap": false, "labelBound": false,
           "tickSize": {"condition": {"test": "datum.value === 0.01 || datum.value === 0.1 || datum.value === 1", "value": 9}, "value": 5},
           "grid": true,
           "gridColor": {"condition": {"test": "datum.value === 0.01 || datum.value === 0.1 || datum.value === 1", "value": "#a8a8a8"}, "value": "#d6d6d6"},
           "gridDash": {"condition": {"test": "datum.value === 0.01 || datum.value === 0.1 || datum.value === 1", "value": []}, "value": [2, 2]}}},
       "color": {"field": "c", "type": "nominal", "legend": null, "scale": {"domain": ["long-term", "short-time"], "range": ["#555555", "#111111"]}},
       "strokeDash": {"field": "c", "type": "nominal", "legend": null, "scale": {"domain": ["long-term", "short-time"], "range": [[6, 3], [1, 0]]}}}},
    {"data": {"values": [{}]}, "mark": {"type": "rule", "color": "#000", "strokeWidth": 1.5},
     "encoding": {"y": {"datum": 5, "type": "quantitative"}}},
    {"data": {"name": "bTextTitle"}, "mark": {"type": "text", "align": "left", "baseline": "middle", "fontSize": 19.8},
     "encoding": {
       "x": {"field": "x", "type": "quantitative"},
       "y": {"field": "y", "type": "quantitative"},
       "text": {"field": "t"}}},
    {"data": {"name": "bTextLeft"}, "mark": {"type": "text", "align": "left", "baseline": "middle", "fontSize": 16},
     "encoding": {
       "x": {"field": "x", "type": "quantitative"},
       "y": {"field": "y", "type": "quantitative"},
       "text": {"field": "t"}}},
    {"data": {"name": "bTextAxis"}, "mark": {"type": "text", "align": "center", "baseline": "middle", "fontSize": 19},
     "encoding": {
       "x": {"field": "x", "type": "quantitative"},
       "y": {"field": "y", "type": "quantitative"},
       "text": {"field": "t"}}},
    {"data": {"name": "bTextPanel"}, "mark": {"type": "text", "align": "left", "baseline": "middle", "fontSize": 26, "fontWeight": "bold"},
     "encoding": {
       "x": {"field": "x", "type": "quantitative"},
       "y": {"field": "y", "type": "quantitative"},
       "text": {"field": "t"}}}
  ]
}
]
}
